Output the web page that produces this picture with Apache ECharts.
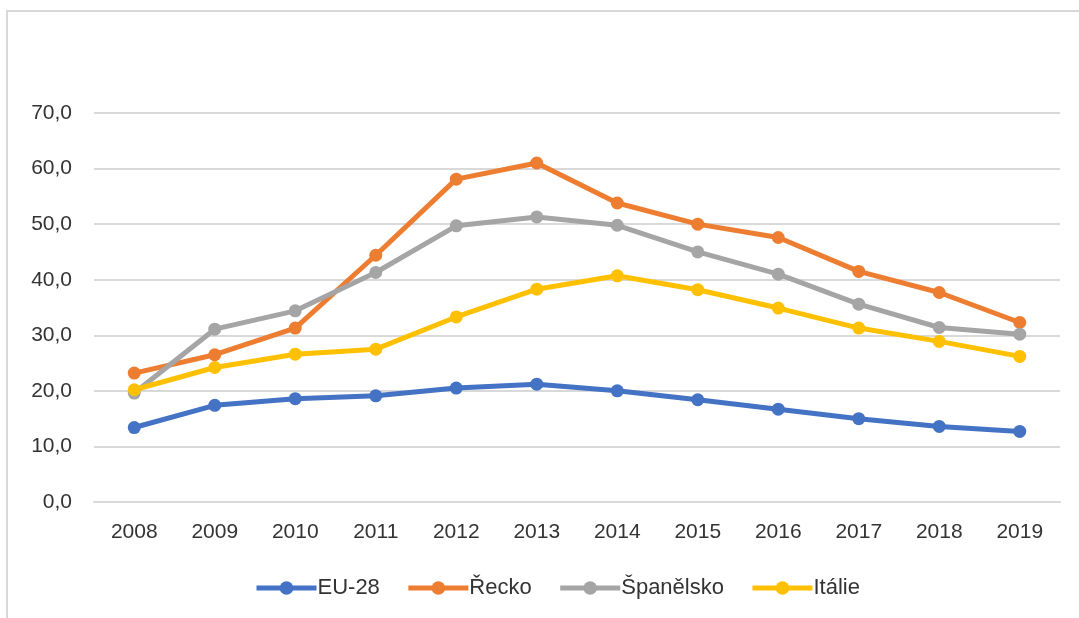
<!DOCTYPE html>
<html>
<head>
  <meta charset="UTF-8">
  <title>chart</title>
  <style>
  body {
    margin: 0;
    background: #fff;
  }
  .frame {
    position: absolute;
    left: 6px;
    top: 10px;
    width: 1200px;
    height: 800px;
    border: 2px solid #d9d9d9;
  }
  #content1 {
    position: absolute;
    left: 0;
    top: 0;
    width: 1079px;
    height: 618px;
  }
  </style>
  <script src="https://cdn.jsdelivr.net/npm/echarts@6/dist/echarts.min.js"></script>
</head>
<body>
  <div class="frame"></div>
  <div id="content1"></div>
  <script type="text/javascript">
  var years = ['2008', '2009', '2010', '2011', '2012', '2013', '2014', '2015', '2016', '2017', '2018', '2019'];
  var eu28 = [13.4, 17.4, 18.6, 19.1, 20.5, 21.2, 20.0, 18.4, 16.7, 15.0, 13.6, 12.7];
  var recko = [23.2, 26.5, 31.3, 44.4, 58.1, 61.0, 53.8, 50.0, 47.6, 41.5, 37.7, 32.3];
  var spanelsko = [19.6, 31.1, 34.4, 41.3, 49.7, 51.3, 49.8, 45.0, 41.0, 35.6, 31.4, 30.2];
  var italie = [20.2, 24.2, 26.6, 27.5, 33.3, 38.3, 40.7, 38.2, 34.9, 31.3, 28.9, 26.2];

  var names = ['EU-28', 'Řecko', 'Španělsko', 'Itálie'];
  var colors = ['#4472c4', '#ed7d31', '#a5a5a5', '#ffc000'];
  var values = [eu28, recko, spanelsko, italie];

  var myChart = echarts.init(document.getElementById('content1'));

  var font = 'Liberation Sans';

  var series = [];
  for (var i = 0; i < names.length; i++) {
    series.push({
      name: names[i],
      type: 'line',
      data: values[i],
      symbol: 'circle',
      symbolSize: 13,
      lineStyle: { width: 5, color: colors[i] },
      itemStyle: { color: colors[i] }
    });
  }

  var option = {
    animation: false,
    color: colors,
    grid: {
      left: 94,
      right: 19,
      top: 113,
      bottom: 116
    },
    legend: {
      data: names,
      top: 572,
      left: 249,
      itemWidth: 60,
      itemHeight: 17,
      itemGap: 26,
      lineStyle: { width: 5 },
      textStyle: {
        fontFamily: font,
        fontSize: 22,
        color: '#333',
        padding: [0, 0, 0, -4]
      }
    },
    xAxis: {
      type: 'category',
      data: years,
      axisTick: { show: false },
      axisLine: { lineStyle: { color: '#d9d9d9', width: 2 } },
      axisLabel: {
        margin: 20,
        fontFamily: font,
        fontSize: 21,
        color: '#333'
      }
    },
    yAxis: {
      type: 'value',
      min: 0,
      max: 70,
      interval: 10,
      axisLine: { show: false },
      axisTick: { show: false },
      splitLine: { lineStyle: { color: '#d9d9d9', width: 2 } },
      axisLabel: {
        margin: 22,
        fontFamily: font,
        fontSize: 21,
        color: '#333',
        formatter: function (v) {
          return v.toFixed(1).replace('.', ',');
        }
      }
    },
    series: series
  };
  myChart.setOption(option);
  </script>
</body>
</html>
